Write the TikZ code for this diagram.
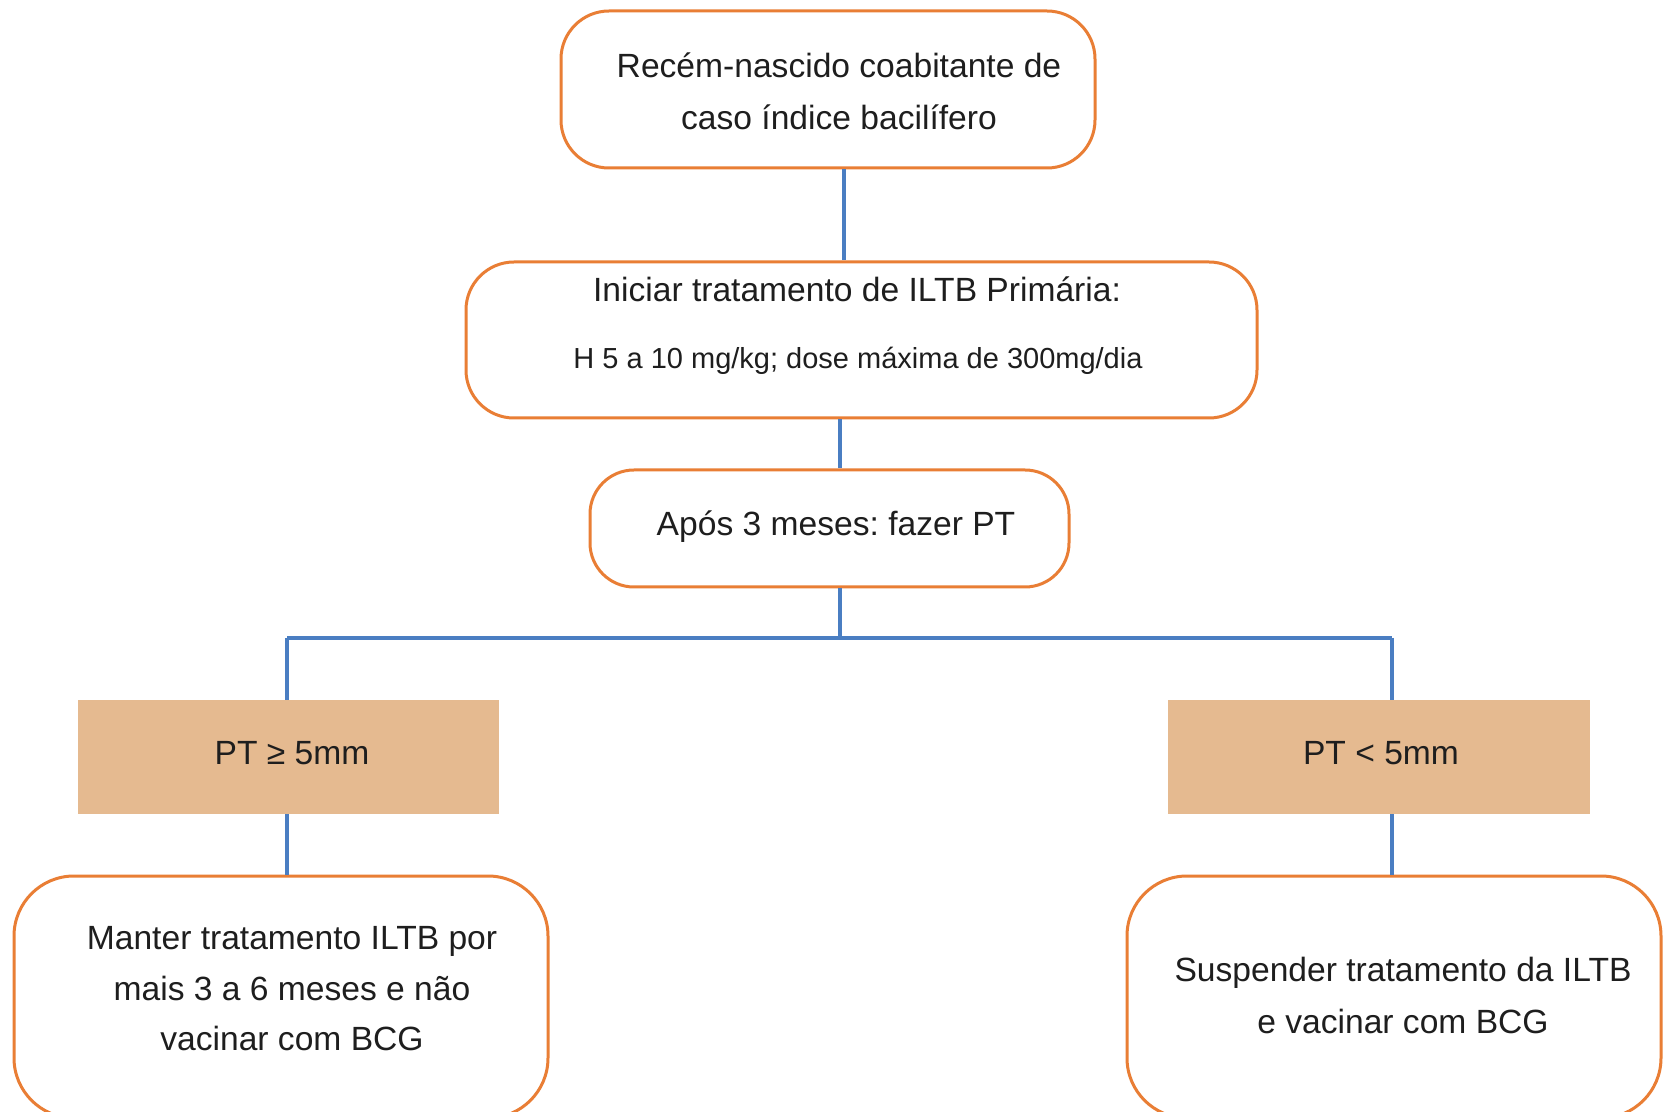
\documentclass[tikz,border=0pt]{standalone}
\usepackage{fontspec}
\setmainfont{Liberation Sans}
\definecolor{boxorange}{HTML}{E97E35}
\definecolor{linkblue}{HTML}{4A7EC2}
\definecolor{tanfill}{HTML}{E5BA90}
\definecolor{txt}{HTML}{1E1E1E}
\frenchspacing
\begin{document}
\begin{tikzpicture}[x=0.5pt,y=-0.5pt,
  roundbox/.style={draw=boxorange,line width=1.5pt,rounded corners=24pt,fill=white,inner sep=0pt},
  tanbox/.style={fill=tanfill,draw=none,inner sep=0pt},
  conn/.style={draw=linkblue,line width=1.7pt},
  txtline/.style={anchor=base,inner sep=0pt,text=txt,font=\fontsize{16.8}{20}\selectfont},
  smallline/.style={anchor=base,inner sep=0pt,text=txt,font=\fontsize{14.5}{18}\selectfont}]
\useasboundingbox (0,0) rectangle (1667,1112);
\clip (0,0) rectangle (1667,1112);
\fill[white] (0,0) rectangle (1667,1112);
% boxes
\node[roundbox,minimum width=267pt,minimum height=78.5pt] (A) at (828,89.5) {};
\node[roundbox,minimum width=395.5pt,minimum height=78pt] (B) at (861.5,340) {};
\node[roundbox,rounded corners=22pt,minimum width=239.5pt,minimum height=58.5pt] (C) at (829.5,528.5) {};
\node[tanbox,minimum width=210.5pt,minimum height=57pt] (D) at (288.5,757) {};
\node[tanbox,minimum width=211pt,minimum height=57pt] (E) at (1379,757) {};
\node[roundbox,rounded corners=30pt,minimum width=267pt,minimum height=121pt] (F) at (281,997) {};
\node[roundbox,rounded corners=30pt,minimum width=267pt,minimum height=121pt] (G) at (1394,997) {};
% texts
\node[txtline] (tA1) at (839,78) {Recém-nascido coabitante de};
\node[txtline] (tA2) at (839,130) {caso índice bacilífero};
\node[txtline] (tB1) at (857,302) {Iniciar tratamento de ILTB Primária:};
\node[smallline] (tB2) at (858,369) {H 5 a 10 mg/kg; dose máxima de 300mg/dia};
\node[txtline] (tC) at (836,536) {Após 3 meses: fazer PT};
\node[txtline] (tD) at (292,764) {PT ≥ 5mm};
\node[txtline] (tE) at (1381,764) {PT < 5mm};
\node[txtline] (tF1) at (292,949) {Manter tratamento ILTB por};
\node[txtline] (tF2) at (292,1000) {mais 3 a 6 meses e não};
\node[txtline] (tF3) at (292,1050) {vacinar com BCG};
\node[txtline] (tG1) at (1403,981) {Suspender tratamento da ILTB};
\node[txtline] (tG2) at (1403,1033) {e vacinar com BCG};
% connectors
\coordinate (ab) at (844,0);
\coordinate (bc) at (840,0);
\coordinate (busL) at (287,638);
\coordinate (busR) at (1392,638);
\draw[conn] (A.south -| ab) -- (B.north -| ab);
\draw[conn] (B.south -| bc) -- (C.north -| bc);
\draw[conn] (C.south -| bc) -- (bc |- busL);
\draw[conn] (busL) -- (busR);
\draw[conn] (busL) -- (D.north -| busL);
\draw[conn] (busR) -- (E.north -| busR);
\draw[conn] (D.south -| busL) -- (F.north -| busL);
\draw[conn] (E.south -| busR) -- (G.north -| busR);
\end{tikzpicture}
\end{document}
